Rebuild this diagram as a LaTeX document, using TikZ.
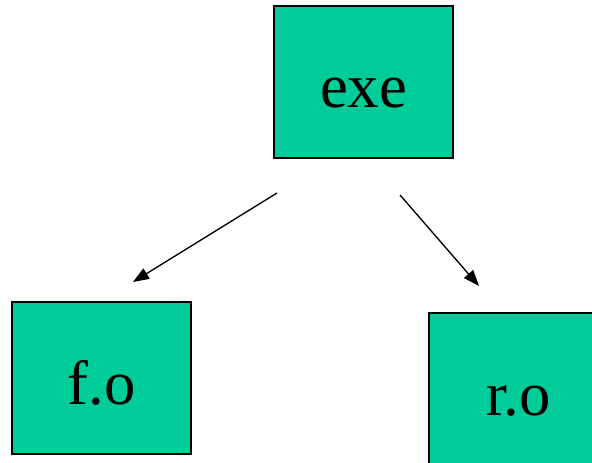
\documentclass[tikz,border=0pt]{standalone}
\usepackage{fontspec}
\setmainfont{Liberation Serif}
\usetikzlibrary{arrows.meta}
\definecolor{objgreen}{HTML}{00CC99}
\tikzset{
	objbox/.style={draw=black, line width=1pt, fill=objgreen, minimum width=134.25pt, minimum height=114pt, inner sep=0pt, font=\fontsize{47}{56}\selectfont, text height=47pt, text depth=8pt},
	deparrow/.style={line width=1pt, -{Triangle[length=12pt, width=9pt]}}
}

\begin{document}
\begin{tikzpicture}[x=0.75pt, y=-0.75pt]
			%%%%% START %%%%%
			
			\useasboundingbox (0, 0) rectangle (592, 463);
			
			\node[objbox] (exe) at (363.5, 82) {exe};
			\node[objbox] (fo) at (101.5, 378) {f.o};
			\node[objbox] (ro) at (518.5, 389) {r.o};
			
			\coordinate (fstart) at (277, 193);
			\coordinate (fend) at (133, 282);
			\coordinate (rstart) at (400, 195);
			\coordinate (rend) at (479, 286);
			
			\draw[deparrow] (fstart) -- (fend);
			\draw[deparrow] (rstart) -- (rend);
			
			%%%%% END %%%%%
		\end{tikzpicture}
\end{document}
